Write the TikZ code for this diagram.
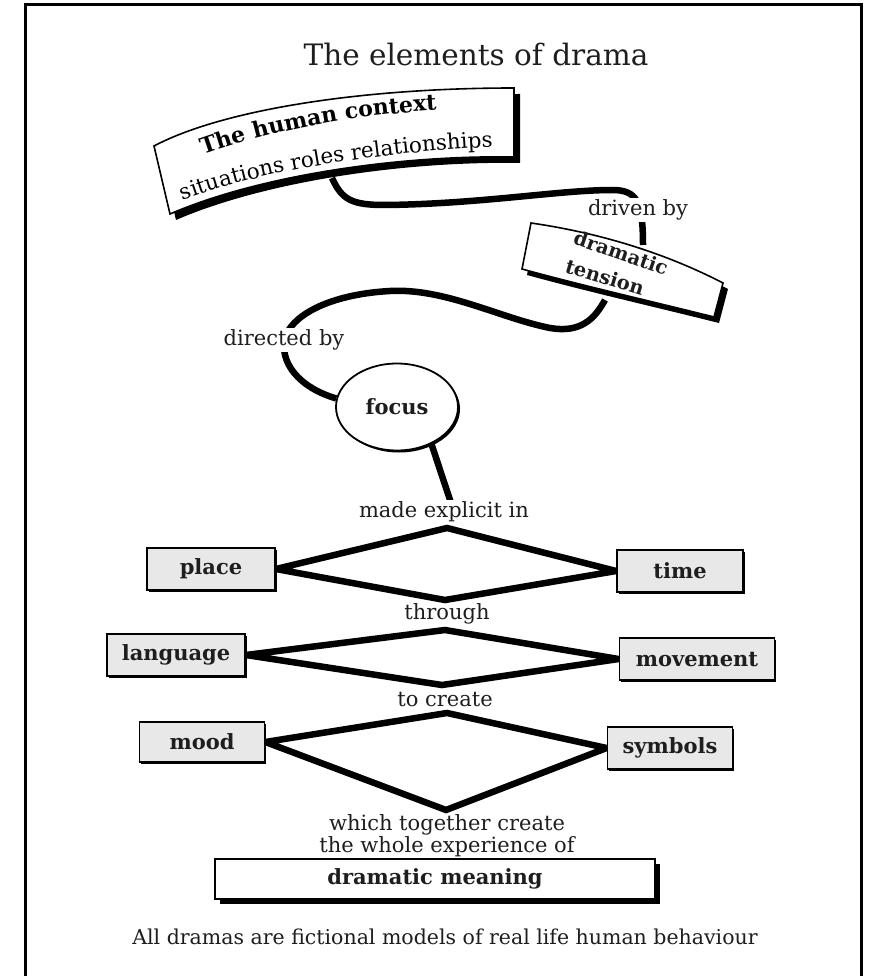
\documentclass[tikz,border=0pt]{standalone}
\usepackage{fontspec}
\setmainfont{DejaVu Serif}
\usetikzlibrary{shapes.geometric,shadows,decorations.text}
\pgfdeclarelayer{background}
\pgfsetlayers{background,main}
\definecolor{boxgray}{HTML}{E8E8E8}
\definecolor{ink}{HTML}{1E1E1E}
\begin{document}
\begin{tikzpicture}[x=1pt,y=-1pt,
  conn/.style={line width=6.5pt, draw=black},
  dia/.style={line width=6.5pt, draw=black, line join=miter},
  lbl/.style={font=\fontsize{21}{25}\selectfont, text=ink, inner sep=2pt},
  lblw/.style={lbl, fill=white},
  boldtxt/.style={font=\fontsize{21}{25}\selectfont\bfseries, text=ink},
  gbox/.style={draw=black, line width=1.8pt, fill=boxgray, boldtxt,
    minimum height=42pt, inner sep=0pt,
    drop shadow={shadow xshift=1.5pt, shadow yshift=-1.5pt, fill=black, opacity=1}},
  banner/.style={draw=black, line width=1.6pt, fill=white},
]
\useasboundingbox (0,0) rectangle (872,976);
\clip (0,0) rectangle (872,976);

% frame
\draw[line width=3pt] (25,990) -- (25,5) -- (861,5) -- (861,990);

% title
\node[font=\fontsize{29.5}{34}\selectfont, text=ink] (title) at (476,55) {The elements of drama};

% human context banner
\fill[black, shift={(6,6)}] (154,146) .. controls (222,110) and (360,88) .. (514,88)
  -- (514,157) .. controls (400,155) and (260,175) .. (170,214) -- cycle;
\draw[banner] (154,146) .. controls (222,110) and (360,88) .. (514,88)
  -- (514,157) .. controls (400,155) and (260,175) .. (170,214) -- cycle;
\coordinate (hc) at (335,150);
\path[decorate, decoration={text along path, text align=center,
  text={|\fontsize{22}{26}\selectfont\bfseries|The human context}}]
  (200,156) .. controls (270,131) and (350,115) .. (440,110);
\path[decorate, decoration={text along path, text align=center,
  text={|\fontsize{21.5}{26}\selectfont|situations roles relationships}}]
  (174,204) .. controls (250,172) and (380,151) .. (502,147);

% dramatic tension banner
\fill[black, shift={(5,6)}] (531,223) .. controls (600,233) and (665,253) .. (723,283)
  -- (714,317) .. controls (650,301) and (580,285) .. (522,269) -- cycle;
\draw[banner] (531,223) .. controls (600,233) and (665,253) .. (723,283)
  -- (714,317) .. controls (650,301) and (580,285) .. (522,269) -- cycle;
\coordinate (dt) at (620,265);
\node[font=\fontsize{19.5}{23}\selectfont\bfseries, text=ink, rotate=-19] (dt1) at (621,253) {dramatic};
\node[font=\fontsize{19.5}{23}\selectfont\bfseries, text=ink, rotate=-17] (dt2) at (605,277) {tension};

% focus
\node[ellipse, draw=black, line width=1.8pt, fill=white, minimum width=122pt,
  minimum height=87pt, boldtxt,
  drop shadow={shadow xshift=2pt, shadow yshift=-2pt, fill=black, opacity=1}]
  (focus) at (397,407) {focus};

% labels
\node[lblw] (driven) at (638,210) {driven by};
\node[lblw] (directed) at (284,340) {directed by};
\node[lblw] (explicit) at (444,512) {made explicit in};
\node[lbl] (through) at (447,614) {through};
\node[lbl] (tocreate) at (445,699) {to create};
\node[lbl, align=center, font=\fontsize{21}{20}\selectfont] (together) at (447,836)
  {which together create\\the whole experience of};
\node[font=\fontsize{20.5}{24}\selectfont, text=ink] (caption) at (445,937)
  {All dramas are fictional models of real life human behaviour};

% boxes
\node[gbox, minimum width=128pt] (place) at (211,569) {place};
\node[gbox, minimum width=126pt] (time) at (680,571) {time};
\node[gbox, minimum width=138pt] (language) at (176,655) {language};
\node[gbox, minimum width=155pt] (movement) at (697,659) {movement};
\node[gbox, minimum width=125pt, minimum height=40pt] (mood) at (202,742) {mood};
\node[gbox, minimum width=125pt] (symbols) at (670,748) {symbols};
\node[draw=black, line width=1.6pt, fill=white, minimum width=440pt, minimum height=40pt,
  boldtxt, drop shadow={shadow xshift=5pt, shadow yshift=-5pt, fill=black, opacity=1}]
  (meaning) at (435,879) {dramatic meaning};

% coordinates
\coordinate (hcb) at (332,178);
\coordinate (dtt) at (643,245);
\coordinate (dtb) at (605,300);
\coordinate (fe) at (451,503);
\coordinate (d1t) at (447,528);
\coordinate (d1b) at (445,600);
\coordinate (d2t) at (445,630);
\coordinate (d2b) at (442,685);
\coordinate (d3t) at (447,713);
\coordinate (d3b) at (446,810);

\begin{pgfonlayer}{background}
\draw[conn] (hcb) .. controls (342,200) and (352,205) .. (385,205)
  .. controls (480,204) and (560,190) .. (612,190)
  .. controls (636,190) and (643,200) .. (dtt);
\draw[conn] (dtb) .. controls (594,320) and (580,333) .. (550,328)
  .. controls (500,318) and (445,288) .. (390,291)
  .. controls (335,294) and (296,312) .. (286,335)
  .. controls (277,362) and (300,388) .. (focus.172);
\draw[conn] (focus.-47) -- (fe);
\draw[dia] (place.east) -- (d1t) -- (time.west) -- (d1b) -- cycle;
\draw[dia] (language.east) -- (d2t) -- (movement.west) -- (d2b) -- cycle;
\draw[dia] (mood.east) -- (d3t) -- (symbols.west) -- (d3b) -- cycle;
\end{pgfonlayer}
\end{tikzpicture}
\end{document}
